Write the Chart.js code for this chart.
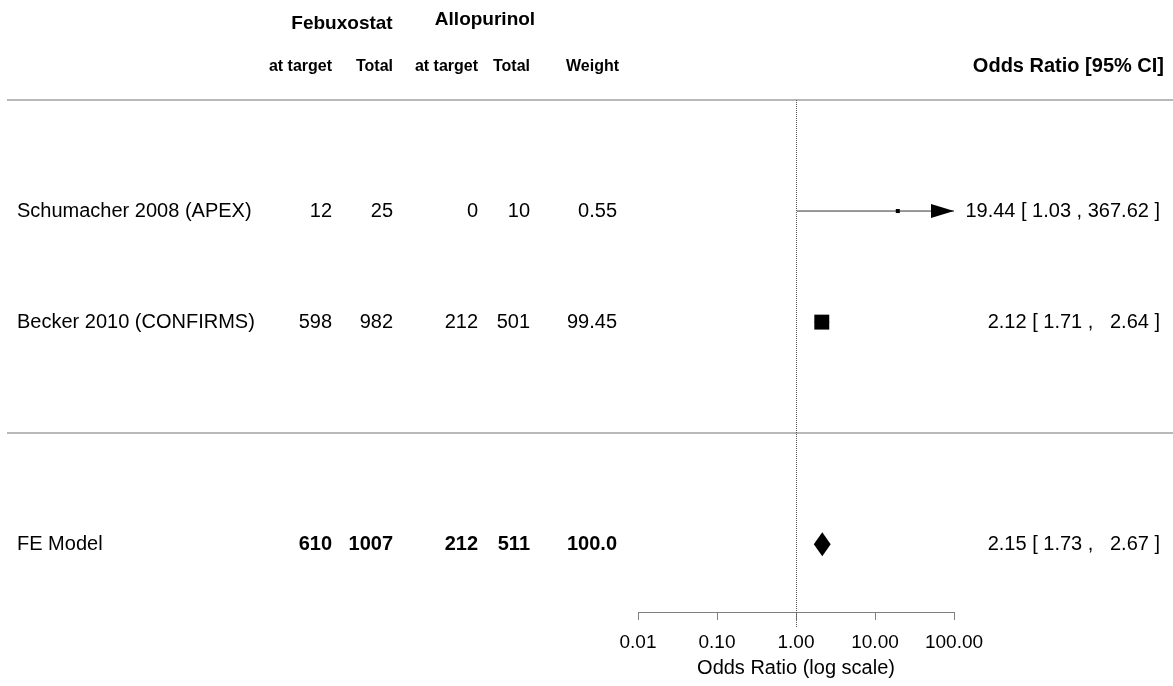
<!DOCTYPE html>
<html>
<head>
<meta charset="utf-8">
<title>Febuxostat vs Allopurinol - forest plot</title>
<script src="https://cdn.jsdelivr.net/npm/chart.js@4.4.1/dist/chart.umd.min.js"></script>
<style>
    html, body { margin: 0; padding: 0; background: #fff; }
    #forestChart { display: block; }
</style>
</head>
<body>
<canvas id="forestChart" width="1173" height="686"></canvas>
<script>
// Study level data
const studies = ['Schumacher 2008 (APEX)', 'Becker 2010 (CONFIRMS)'];
const studyRows = [2, 1];
const febuxostatAtTarget = [12, 598];
const febuxostatTotal = [25, 982];
const allopurinolAtTarget = [0, 212];
const allopurinolTotal = [10, 501];
const weights = [0.55, 99.45];
const oddsRatios = [19.44, 2.12];
const ciLower = [1.03, 1.71];
const ciUpper = [367.62, 2.64];

// Pooled fixed effect model
const pooledLabel = 'FE Model';
const pooledRow = -1;
const pooledCounts = [610, 1007, 212, 511];
const pooledWeight = '100.0';
const pooledOR = 2.15;
const pooledLower = 1.73;
const pooledUpper = 2.67;

// Separator rows and axis ticks
const separatorRows = [3, 0];
const tickValues = [0.01, 0.1, 1, 10, 100];
const tickLabels = ['0.01', '0.10', '1.00', '10.00', '100.00'];

const FONT = "'Liberation Sans', Arial, Helvetica, sans-serif";
const xMin = tickValues[0];
const xMax = tickValues[tickValues.length - 1];

// right edges of the numeric columns
const colRight = [332, 393, 478, 530, 617];

function fmt(v) {
    return v.toFixed(2);
}

const allUpper = ciUpper.concat([pooledUpper]).map(fmt);
const upperWidth = Math.max(...allUpper.map(s => s.length));

function ciText(est, lo, hi) {
    return fmt(est) + ' [ ' + fmt(lo) + ' , ' + fmt(hi).padStart(upperWidth, ' ') + ' ]';
}

// Plugin that draws the table text, separators, reference line, arrows and diamond
const forestPlugin = {
    id: 'forestPlugin',
    beforeDatasetsDraw(chart) {
        const c = chart.ctx;
        const x = chart.scales.x;
        const y = chart.scales.y;
        const area = chart.chartArea;

        c.save();
        // horizontal separators
        c.strokeStyle = '#b8b8b8';
        c.lineWidth = 2;
        separatorRows.forEach(r => {
            const py = Math.round(y.getPixelForValue(r));
            c.beginPath();
            c.moveTo(7, py);
            c.lineTo(chart.width, py);
            c.stroke();
        });

        // dotted reference line at OR = 1
        const px = Math.round(x.getPixelForValue(1)) + 0.5;
        c.strokeStyle = '#555';
        c.lineWidth = 1;
        c.setLineDash([1, 1]);
        c.beginPath();
        c.moveTo(px, y.getPixelForValue(separatorRows[0]));
        c.lineTo(px, area.bottom + 16);
        c.stroke();
        c.restore();
    },
    afterDatasetsDraw(chart) {
        const c = chart.ctx;
        const x = chart.scales.x;
        const y = chart.scales.y;

        c.save();
        c.fillStyle = '#000';

        // arrows for intervals running off the axis
        ciUpper.forEach((hi, i) => {
            if (hi > xMax) {
                const tip = x.getPixelForValue(xMax);
                const py = y.getPixelForValue(studyRows[i]);
                c.beginPath();
                c.moveTo(tip, py);
                c.lineTo(tip - 23, py - 7);
                c.lineTo(tip - 23, py + 7);
                c.closePath();
                c.fill();
            }
        });

        // pooled diamond
        const dy = y.getPixelForValue(pooledRow);
        c.beginPath();
        c.moveTo(x.getPixelForValue(pooledLower) - 1, dy);
        c.lineTo(x.getPixelForValue(pooledOR), dy - 12);
        c.lineTo(x.getPixelForValue(pooledUpper) + 1, dy);
        c.lineTo(x.getPixelForValue(pooledOR), dy + 12);
        c.closePath();
        c.fill();
        c.restore();
    },
    afterDraw(chart) {
        const c = chart.ctx;
        const y = chart.scales.y;

        c.save();
        c.fillStyle = '#000';
        c.textBaseline = 'middle';

        // group headers
        c.font = 'bold 19px ' + FONT;
        c.textAlign = 'center';
        c.fillText('Febuxostat', 342, y.getPixelForValue(3.69));
        c.fillText('Allopurinol', 485, y.getPixelForValue(3.72));

        // column headers
        c.font = 'bold 16px ' + FONT;
        c.textAlign = 'right';
        ['at target', 'Total', 'at target', 'Total', 'Weight'].forEach((h, i) => {
            c.fillText(h, colRight[i] + (i === 4 ? 2 : 0), y.getPixelForValue(3.3));
        });
        c.font = 'bold 20px ' + FONT;
        c.fillText('Odds Ratio [95% CI]', 1164, y.getPixelForValue(3.3));

        // study rows
        studies.forEach((name, i) => {
            const py = y.getPixelForValue(studyRows[i]);
            c.font = '20px ' + FONT;
            c.textAlign = 'left';
            c.fillText(name, 17, py);
            c.textAlign = 'right';
            const cells = [febuxostatAtTarget[i], febuxostatTotal[i], allopurinolAtTarget[i], allopurinolTotal[i], fmt(weights[i])];
            cells.forEach((v, j) => c.fillText(String(v), colRight[j], py));
            c.fillText(ciText(oddsRatios[i], ciLower[i], ciUpper[i]), 1160, py);
        });

        // pooled row
        const py = y.getPixelForValue(pooledRow);
        c.font = '20px ' + FONT;
        c.textAlign = 'left';
        c.fillText(pooledLabel, 17, py);
        c.textAlign = 'right';
        c.font = 'bold 20px ' + FONT;
        pooledCounts.concat([pooledWeight]).forEach((v, j) => c.fillText(String(v), colRight[j], py));
        c.font = '20px ' + FONT;
        c.fillText(ciText(pooledOR, pooledLower, pooledUpper), 1160, py);
        c.restore();
    }
};

// Confidence interval segments, clipped to the axis range
const ciDatasets = studies.map((s, i) => ({
    type: 'scatter',
    showLine: true,
    data: [
        { x: Math.max(ciLower[i], xMin), y: studyRows[i] },
        { x: Math.min(ciUpper[i], xMax), y: studyRows[i] }
    ],
    borderColor: '#333',
    borderWidth: 1,
    pointRadius: 0
}));

const ctx = document.getElementById('forestChart').getContext('2d');
const forestChart = new Chart(ctx, {
    type: 'scatter',
    data: {
        datasets: [{
            // study estimates, square size by weight
            data: oddsRatios.map((v, i) => ({ x: v, y: studyRows[i] })),
            pointStyle: 'rect',
            pointRadius: weights.map(w => 2.8 + 7.8 * w / 100),
            backgroundColor: '#000',
            borderColor: '#000',
            borderWidth: 0
        }].concat(ciDatasets)
    },
    options: {
        responsive: false,
        animation: false,
        events: [],
        layout: {
            autoPadding: false,
            padding: { left: 638, right: 219, top: 0, bottom: 0 }
        },
        plugins: {
            legend: { display: false },
            tooltip: { enabled: false }
        },
        scales: {
            x: {
                type: 'logarithmic',
                position: 'bottom',
                min: xMin,
                max: xMax,
                afterBuildTicks: scale => {
                    scale.ticks = tickValues.map(v => ({ value: v }));
                },
                afterFit: scale => {
                    scale.height = 74;
                },
                ticks: {
                    autoSkip: false,
                    maxRotation: 0,
                    padding: 11,
                    color: '#000',
                    font: { family: FONT, size: 19 },
                    callback: (value, index) => tickLabels[index]
                },
                grid: {
                    drawOnChartArea: false,
                    drawTicks: true,
                    tickLength: 8,
                    color: '#808080'
                },
                border: { display: true, color: '#808080', width: 1 },
                title: {
                    display: true,
                    text: 'Odds Ratio (log scale)',
                    color: '#000',
                    font: { family: FONT, size: 20 },
                    padding: { top: 0, bottom: 6 }
                }
            },
            y: {
                type: 'linear',
                min: -1.61,
                max: 3.9,
                display: false
            }
        }
    },
    plugins: [forestPlugin]
});
</script>
</body>
</html>
